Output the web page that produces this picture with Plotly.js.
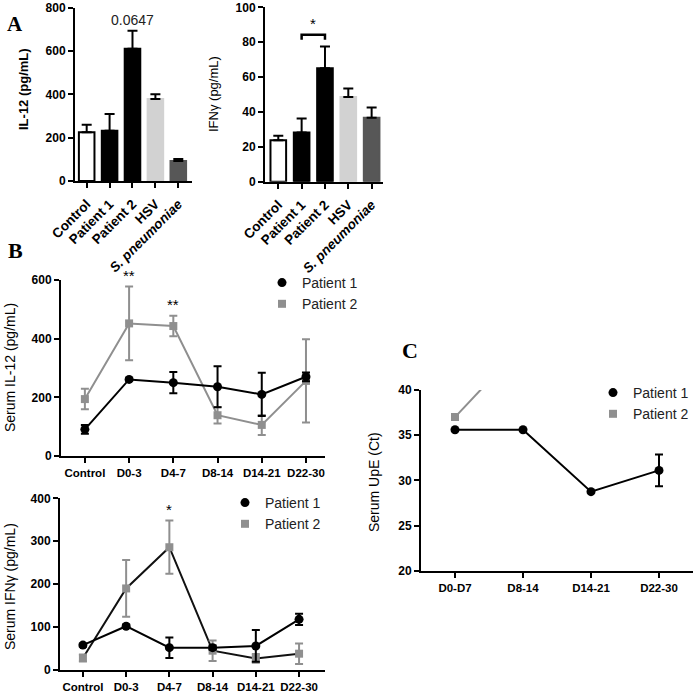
<!DOCTYPE html>
<html>
<head>
<meta charset="utf-8">
<script src="https://cdn.plot.ly/plotly-3.0.1.min.js"></script>
<style>html,body{margin:0;padding:0;background:#fff;}#chart{width:697px;height:692px;}</style>
</head>
<body>
<div id="chart"></div>
<script>
// ---- Data ----
const aCategories = ['Control', 'Patient 1', 'Patient 2', 'HSV', 'S. pneumoniae'];
const aTickLabels = ['Control', 'Patient 1', 'Patient 2', 'HSV', '<i>S. pneumoniae</i>'];
const il12Values = [225, 232, 610, 379, 92];
const il12Err = [35, 77, 84, 21, 10];
const ifngValues = [23.8, 28.2, 65.1, 48.6, 36.6];
const ifngErr = [2.5, 8.0, 12.4, 4.9, 5.9];

const bCategories = ['Control', 'D0-3', 'D4-7', 'D8-14', 'D14-21', 'D22-30'];
const serumIl12P1 = [91, 261, 250, 236, 210, 270];
const serumIl12P1Err = [15, 4, 36, 70, 74, 15];
const serumIl12P2 = [194, 452, 443, 139, 106, 256];
const serumIl12P2Err = [35, 126, 35, 28, 34, 142];

const serumIfngP1 = [58, 102, 52, 52, 56, 118];
const serumIfngP1Err = [4, 4, 24, 5, 37, 13];
const serumIfngP2 = [28, 190, 286, 45, 27, 38];
const serumIfngP2Err = [8, 66, 62, 24, 10, 24];

const cCategories = ['D0-D7', 'D8-14', 'D14-21', 'D22-30'];
const upeP1 = [35.6, 35.6, 28.75, 31.1];
const upeP1Err = [0, 0, 0, 1.75];
const upeP2 = [37, 45, null, null];

// ---- helpers ----
const W = 697, H = 692;
const px = x => x / W;
const py = y => 1 - y / H;
const FONT = 'Liberation Sans, Arial, Helvetica, sans-serif';
const SERIF = 'Liberation Serif, Times New Roman, serif';
const GRAY = '#8f8f8f';
const zeros = n => new Array(n).fill(0);

function axisBase(extra) {
  return Object.assign({
    showline: true, linecolor: '#000', linewidth: 2,
    ticks: 'outside', ticklen: 5, tickwidth: 2, tickcolor: '#000',
    showgrid: false, zeroline: false, fixedrange: true,
    tickfont: {family: FONT, size: 11.5, color: '#000', weight: 'bold'}
  }, extra);
}

const traces = [];

// Panel A bars
traces.push({
  type: 'bar', x: aCategories, y: il12Values, xaxis: 'x', yaxis: 'y', width: 0.68,
  marker: {color: ['#ffffff', '#000000', '#000000', '#d2d2d2', '#575757'],
           line: {color: ['#000000', '#000000', '#000000', '#d2d2d2', '#575757'], width: 2}},
  error_y: {type: 'data', symmetric: false, array: il12Err, arrayminus: zeros(5), color: '#000', thickness: 2, width: 5},
  showlegend: false, hoverinfo: 'skip'
});
traces.push({
  type: 'bar', x: aCategories, y: ifngValues, xaxis: 'x2', yaxis: 'y2', width: 0.67,
  marker: {color: ['#ffffff', '#000000', '#000000', '#d2d2d2', '#575757'],
           line: {color: ['#000000', '#000000', '#000000', '#d2d2d2', '#575757'], width: 2}},
  error_y: {type: 'data', symmetric: false, array: ifngErr, arrayminus: zeros(5), color: '#000', thickness: 2, width: 5},
  showlegend: false, hoverinfo: 'skip'
});

function linePair(xs, p1, p1e, p2, p2e, xa, ya, legendName, p2LineColor) {
  traces.push({type: 'scatter', mode: 'lines', x: xs, y: p2, xaxis: xa, yaxis: ya,
    line: {color: p2LineColor, width: 2}, showlegend: false, hoverinfo: 'skip'});
  traces.push({type: 'scatter', mode: 'lines', x: xs, y: p1, xaxis: xa, yaxis: ya,
    line: {color: '#000', width: 2}, showlegend: false, hoverinfo: 'skip'});
  const t2 = {type: 'scatter', mode: 'markers', name: 'Patient 2', x: xs, y: p2, xaxis: xa, yaxis: ya,
    marker: {symbol: 'square', size: 8, color: GRAY}, legend: legendName, legendrank: 2, hoverinfo: 'skip'};
  if (p2e) t2.error_y = {type: 'data', array: p2e, color: GRAY, thickness: 2, width: 4};
  traces.push(t2);
  const t1 = {type: 'scatter', mode: 'markers', name: 'Patient 1', x: xs, y: p1, xaxis: xa, yaxis: ya,
    marker: {symbol: 'circle', size: 9, color: '#000'}, legend: legendName, legendrank: 1, hoverinfo: 'skip'};
  if (p1e) t1.error_y = {type: 'data', array: p1e, color: '#000', thickness: 2, width: 4};
  traces.push(t1);
}

linePair(bCategories, serumIl12P1, serumIl12P1Err, serumIl12P2, serumIl12P2Err, 'x3', 'y3', 'legend', GRAY);
linePair(bCategories, serumIfngP1, serumIfngP1Err, serumIfngP2, serumIfngP2Err, 'x4', 'y4', 'legend2', '#111');
linePair(cCategories, upeP1, upeP1Err, upeP2, null, 'x5', 'y5', 'legend3', GRAY);

const legendBase = {xanchor: 'left', yanchor: 'top', bgcolor: 'rgba(0,0,0,0)', borderwidth: 0,
  font: {family: FONT, size: 14, color: '#222'}, tracegroupgap: 0, itemwidth: 30, traceorder: 'normal'};

const ann = [];
function txt(text, x, y, opts) {
  ann.push(Object.assign({text: text, x: x, y: y, xref: 'paper', yref: 'paper', showarrow: false,
    xanchor: 'center', yanchor: 'middle', font: {family: FONT, size: 14, color: '#000'}}, opts || {}));
}
// Panel letters
txt('A', px(15), py(24), {font: {family: SERIF, size: 21, color: '#000', weight: 'bold'}});
txt('B', px(15), py(250), {font: {family: SERIF, size: 22, color: '#000', weight: 'bold'}});
txt('C', px(410), py(350), {font: {family: SERIF, size: 22, color: '#000', weight: 'bold'}});
// Y titles
txt('IL-12 (pg/mL)', px(23), py(89), {textangle: -90, font: {family: FONT, size: 13, color: '#000', weight: 'bold'}});
txt('IFNγ (pg/mL)', px(213), py(94), {textangle: -90, font: {family: FONT, size: 13, color: '#000'}});
txt('Serum IL-12 (pg/mL)', px(10), py(368), {textangle: -90, font: {family: FONT, size: 14, color: '#000'}});
txt('Serum IFNγ (pg/mL)', px(10), py(587), {textangle: -90, font: {family: FONT, size: 14, color: '#000'}});
txt('Serum UpE (Ct)', px(374), py(482), {textangle: -90, font: {family: FONT, size: 14, color: '#000'}});
// significance labels
ann.push({text: '0.0647', x: 'Patient 2', y: 745, xref: 'x', yref: 'y', showarrow: false, yanchor: 'middle',
  font: {family: FONT, size: 14, color: '#222'}});
ann.push({text: '*', x: 1.5, y: 91, xref: 'x2', yref: 'y2', showarrow: false, yanchor: 'middle',
  font: {family: FONT, size: 15, color: '#000'}});
ann.push({text: '**', x: 'D0-3', y: py(275), xref: 'x3', yref: 'paper', showarrow: false, yanchor: 'middle',
  font: {family: FONT, size: 15, color: '#000'}});
ann.push({text: '**', x: 'D4-7', y: py(304), xref: 'x3', yref: 'paper', showarrow: false, yanchor: 'middle',
  font: {family: FONT, size: 15, color: '#000'}});
ann.push({text: '*', x: 'D4-7', y: py(509), xref: 'x4', yref: 'paper', showarrow: false, yanchor: 'middle',
  font: {family: FONT, size: 15, color: '#000'}});

const shapes = [{type: 'path', xref: 'x2', yref: 'y2',
  path: 'M 1,81.4 L 1,84.2 L 2,84.2 L 2,81.4', line: {color: '#000', width: 2.5}}];

const aTickFont = {family: FONT, size: 13.5, color: '#000', weight: 'bold'};
const yTickFont = {family: FONT, size: 12, color: '#000', weight: 'bold'};

const layout = {
  width: W, height: H, margin: {l: 0, r: 0, t: 0, b: 0},
  paper_bgcolor: '#fff', plot_bgcolor: 'rgba(0,0,0,0)',
  font: {family: FONT, color: '#000'},
  showlegend: true, hovermode: false,
  xaxis: axisBase({domain: [px(75), px(191.7)], anchor: 'y', type: 'category', range: [-0.51, 4.585],
    tickvals: aCategories, ticktext: aTickLabels, tickangle: -45, tickfont: aTickFont, ticklabelstandoff: 3}),
  yaxis: axisBase({domain: [py(181), py(7.7)], anchor: 'x', range: [0, 800], dtick: 200, tickfont: yTickFont}),
  xaxis2: axisBase({domain: [px(265), px(383.3)], anchor: 'y2', type: 'category', range: [-0.57, 4.5],
    tickvals: aCategories, ticktext: aTickLabels, tickangle: -45, tickfont: aTickFont, ticklabelstandoff: 3}),
  yaxis2: axisBase({domain: [py(181.7), py(7.3)], anchor: 'x2', range: [0, 100], dtick: 20, tickfont: yTickFont}),
  xaxis3: axisBase({domain: [px(61), px(325)], anchor: 'y3', type: 'category', range: [-0.54, 5.43]}),
  yaxis3: axisBase({domain: [py(456), py(280)], anchor: 'x3', range: [0, 600], dtick: 200, tickfont: yTickFont}),
  xaxis4: axisBase({domain: [px(60), px(325)], anchor: 'y4', type: 'category', range: [-0.53, 5.6]}),
  yaxis4: axisBase({domain: [py(670), py(498.3)], anchor: 'x4', range: [0, 400], dtick: 100, tickfont: yTickFont}),
  xaxis5: axisBase({domain: [px(421), px(693)], anchor: 'y5', type: 'category', range: [-0.5, 3.5]}),
  yaxis5: axisBase({domain: [py(570.7), py(390)], anchor: 'x5', range: [20, 40], dtick: 5, tickfont: yTickFont}),
  legend: Object.assign({}, legendBase, {x: px(262), y: py(267)}),
  legend2: Object.assign({}, legendBase, {x: px(225), y: py(487)}),
  legend3: Object.assign({}, legendBase, {x: px(593), y: py(377)}),
  annotations: ann,
  shapes: shapes
};

Plotly.newPlot('chart', traces, layout, {staticPlot: true, displayModeBar: false});
</script>
</body>
</html>
